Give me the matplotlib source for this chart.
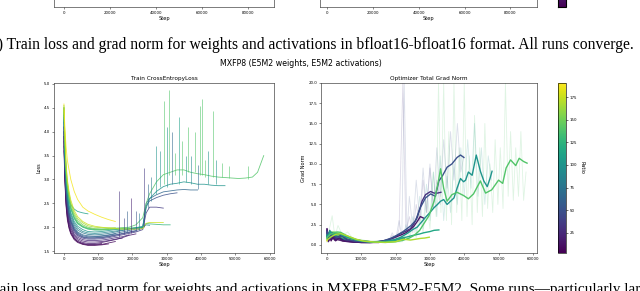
import matplotlib

matplotlib.use("Agg")

import matplotlib.pyplot as plt
from matplotlib import cm
from matplotlib.colors import Normalize

W, H = 640, 291

# ---------------- loss panel (shared step grid) ----------------
loss_steps = [0, 250, 600, 1000, 1500, 2000, 3000, 4000, 5500, 7000, 9000, 11000,
              13000, 15000, 17000, 19000, 21000, 23000, 24000, 25000, 27000, 29000,
              31000, 33000, 35000, 37000, 39000, 41000, 43000, 45000, 47000, 49000,
              51000, 53000, 55000, 56500, 58300]

loss_r003 = [3.9, 3.0, 2.45, 2.15, 1.97, 1.86, 1.74, 1.68, 1.64, 1.62, 1.62, 1.63, 1.65]
loss_r008 = [4.0, 3.1, 2.55, 2.22, 2.02, 1.9, 1.77, 1.7, 1.65, 1.63, 1.63, 1.64, 1.67, 1.70]
loss_r012 = [3.6, 3.05, 2.5, 2.2, 2.0, 1.88, 1.76, 1.7, 1.66, 1.64, 1.64, 1.66]
loss_r015 = [3.8, 3.15, 2.6, 2.28, 2.07, 1.94, 1.8, 1.73, 1.68, 1.66, 1.66, 1.68, 1.71,
             1.74, 1.78, 1.83, 1.86]
loss_r020 = [4.1, 3.2, 2.65, 2.33, 2.11, 1.98, 1.83, 1.76, 1.71, 1.69, 1.69, 1.70, 1.72,
             1.75, 1.77]
loss_r025 = [3.7, 3.25, 2.7, 2.38, 2.15, 2.02, 1.86, 1.79, 1.74, 1.72, 1.72, 1.73, 1.75,
             1.78, 1.80, 1.84]
loss_r035 = [3.9, 3.3, 2.75, 2.43, 2.2, 2.06, 1.9, 1.82, 1.77, 1.75, 1.75, 1.76, 1.78,
             1.81, 1.84, 1.87, 1.9, 1.95, 2.3, 2.42, 2.42, 2.4]
loss_r045 = [4.0, 3.35, 2.8, 2.47, 2.24, 2.1, 1.93, 1.84, 1.79, 1.77, 1.77, 1.78, 1.8,
             1.83, 1.86, 1.89, 1.92]
loss_r050 = [4.2, 3.4, 2.82, 2.5, 2.26, 2.12, 1.95, 1.86, 1.8, 1.78, 1.78, 1.79, 1.81,
             1.84, 1.87, 1.9, 1.93, 1.98, 2.45, 2.55, 2.62, 2.67, 2.7, 2.72]
loss_r058 = [4.1, 3.45, 2.86, 2.53, 2.29, 2.14, 1.97, 1.88, 1.82, 1.8, 1.8, 1.81, 1.83, 1.86]
loss_r065 = [4.3, 3.5, 2.9, 2.56, 2.32, 2.17, 2.0, 1.9, 1.84, 1.82, 1.81, 1.82, 1.84,
             1.87, 1.9, 1.93, 1.96, 2.0, 2.5, 2.6, 2.68, 2.74, 2.76, 2.78, 2.79, 2.78, 2.78]
loss_r078 = [4.25, 3.55, 2.95, 2.62, 2.38, 2.22, 2.04, 1.94, 1.88, 1.85, 1.84, 1.85, 1.87,
             1.9, 1.93, 1.96, 1.98, 2.0]
loss_r090 = [4.35, 3.6, 3.0, 2.67, 2.43, 2.27, 2.08, 1.98, 1.91, 1.88, 1.87, 1.88, 1.9,
             1.92, 1.94, 1.96, 1.98, 2.0, 2.05, 2.04]
loss_r100 = [4.45, 3.65, 3.05, 2.72, 2.47, 2.31, 2.12, 2.02, 1.95, 1.91, 1.9, 1.91, 1.93,
             1.95, 1.96, 1.97, 1.99, 2.02, 2.4, 2.6, 2.75, 2.85, 2.9, 2.92, 2.95, 2.93,
             2.9, 2.9, 2.88, 2.87, 2.87]
loss_r110 = [4.5, 3.75, 3.15, 2.82, 2.6, 2.47, 2.38, 2.33, 2.3, 2.28]
loss_r125 = [4.5, 3.8, 3.15, 2.8, 2.55, 2.38, 2.18, 2.07, 2.0, 1.96, 1.94, 1.94, 1.95,
             1.96, 1.97, 1.98, 1.99, 2.0, 2.08, 2.07, 2.06, 2.05, 2.05]
loss_r135 = [4.4, 3.8, 3.18, 2.83, 2.58, 2.4, 2.2, 2.09, 2.01, 1.97, 1.95, 1.95, 1.96]
loss_r140 = [4.5, 3.85, 3.2, 2.85, 2.6, 2.42, 2.22, 2.1, 2.02, 1.98, 1.96, 1.96, 1.97,
             1.98, 1.99, 2.0, 2.05, 2.2, 2.5, 2.7, 2.95, 3.1, 3.15, 3.2, 3.2, 3.15, 3.12,
             3.1, 3.07, 3.05, 3.04, 3.03, 3.02, 3.03, 3.05, 3.15, 3.5]
loss_r152 = [4.55, 3.9, 3.25, 2.9, 2.65, 2.47, 2.26, 2.14, 2.05, 2.0, 1.97, 1.96, 1.96,
             1.97, 1.98, 1.98]
loss_r165 = [4.5, 3.95, 3.3, 2.95, 2.7, 2.52, 2.3, 2.18, 2.09, 2.03, 2.0, 1.99, 1.99, 1.99]
loss_r176 = [4.45, 4.0, 3.35, 3.0, 2.75, 2.57, 2.35, 2.22, 2.12, 2.06, 2.02, 2.0, 1.98,
             1.97, 1.96, 1.96, 1.96, 1.97, 2.08, 2.1, 2.1, 2.1]
loss_r188 = [4.58, 4.15, 3.7, 3.4, 3.2, 3.0, 2.75, 2.58, 2.42, 2.34, 2.27, 2.21, 2.16, 2.12]

# loss spikes
spike_steps = [16000, 17500, 18500, 19500, 21000, 22000, 23500, 24500, 25500, 27000,
               28000, 29100, 30000, 30800, 31500, 32500, 33500, 34500, 35500, 36300,
               37000, 38200, 39000, 39600, 40300, 41200, 42000, 43600, 44500, 46000,
               48300, 53600]
spike_lo = [1.8, 1.85, 1.9, 1.88, 1.92, 1.95, 2.0, 2.4, 2.55, 2.7, 2.85, 2.9, 2.85, 3.1,
            2.9, 3.1, 2.9, 3.1, 2.95, 3.15, 2.9, 3.15, 2.8, 3.1, 3.1, 3.05, 2.9, 3.05,
            2.9, 3.05, 3.03, 3.02]
spike_hi = [2.75, 2.2, 2.35, 2.62, 2.35, 2.3, 3.25, 2.9, 3.05, 3.7, 3.6, 4.64, 4.1, 4.88,
            4.0, 3.55, 4.3, 3.8, 3.5, 4.1, 3.5, 4.0, 3.3, 4.54, 4.68, 3.4, 3.6, 4.43, 3.4,
            3.35, 3.28, 3.29]
spike_ratio = [30, 40, 60, 20, 50, 80, 35, 65, 80, 100, 100, 140, 100, 140, 65, 140, 110,
               140, 100, 140, 90, 140, 65, 140, 140, 140, 100, 140, 100, 140, 140, 140]

# ---------------- grad norm panel ----------------
gn_steps = [0, 400, 800, 1200, 1800, 2500, 3500, 4500, 6000, 8000, 10000, 12500, 15000,
            17500, 20000, 22500]
gn_r003 = [1.9, 0.6, 1.4, 0.5, 1.1, 0.6, 0.8, 0.5, 0.45, 0.35, 0.3, 0.3]
gn_r008 = [1.5, 0.4, 1.2, 0.7, 1.2, 0.5, 0.9, 0.6, 0.5, 0.4, 0.32, 0.3, 0.3]
gn_r012 = [1.2, 0.5, 1.5, 0.6, 0.9, 0.7, 0.6, 0.5, 0.4, 0.35]
gn_r020 = [1.7, 0.7, 1.3, 0.8, 1.0, 0.6, 0.8, 0.6, 0.5, 0.4, 0.35, 0.33, 0.35, 0.4]
gn_r045 = [1.4, 0.5, 1.6, 1.0, 1.3, 0.9, 1.0, 0.7, 0.55, 0.42, 0.36, 0.35, 0.38, 0.45, 0.55]
gn_r058 = [1.1, 0.8, 1.7, 1.2, 1.4, 1.0, 0.9, 0.7, 0.55, 0.42, 0.36, 0.35, 0.38]
gn_r078 = [1.3, 0.9, 1.8, 1.3, 1.5, 1.1, 1.0, 0.8, 0.6, 0.45, 0.38, 0.36, 0.4, 0.48, 0.6, 0.8]
gn_r090 = [1.0, 1.0, 1.6, 1.4, 1.5, 1.2, 1.0, 0.85, 0.65, 0.48, 0.4, 0.38, 0.42, 0.5, 0.65, 0.9]
gn_r110 = [1.2, 1.1, 1.7, 1.5, 1.5, 1.3, 1.1, 0.9, 0.7]
gn_r135 = [0.8, 1.2, 1.5, 1.6, 1.5, 1.4, 1.2, 0.95, 0.75, 0.55, 0.45, 0.4]
gn_r152 = [0.7, 1.0, 1.3, 1.5, 1.6, 1.55, 1.4, 1.15, 0.9, 0.65, 0.5, 0.42, 0.4, 0.42, 0.45]
gn_r188 = [0.5, 0.6, 0.9, 1.1, 1.2, 1.25, 1.2, 1.05, 0.85, 0.6, 0.45, 0.38, 0.35]

gn_green_steps = [0, 1000, 2000, 3000, 4000, 5500, 7000, 9000, 11000, 14000, 17000, 20000,
                  22000, 24000, 25500, 27000, 28200, 29700, 31200, 32300, 33100, 34000,
                  35000, 36400, 37900, 39800, 41200, 42700, 44700, 46200, 48000, 50000,
                  51200, 52200, 53500, 55000, 56000, 57300, 58300]
gn_green_vals = [0.9, 1.3, 1.5, 1.6, 1.55, 1.2, 0.9, 0.6, 0.45, 0.35, 0.3, 0.4, 0.55, 0.85,
                 1.2, 1.8, 2.6, 3.6, 5.4, 7.5, 9.4, 7.0, 5.4, 6.2, 6.5, 6.1, 5.7, 6.3, 7.9,
                 6.4, 6.8, 8.0, 7.6, 9.5, 10.5, 9.8, 10.7, 10.3, 10.1]
gn_teal_steps = [0, 1000, 2000, 3500, 5000, 7000, 10000, 13000, 16000, 19400, 21500, 23300,
                 25000, 26300, 27500, 28700, 30000, 31200, 32200, 33100, 34000, 35000,
                 36000, 37000, 37900, 38900, 39800, 40400, 41200, 42300, 43500, 44700,
                 45700, 46700, 47500, 48100]
gn_teal_vals = [1.1, 1.6, 1.3, 1.4, 1.1, 0.8, 0.5, 0.38, 0.4, 0.6, 0.95, 1.4, 1.9, 2.2,
                2.8, 3.4, 4.0, 4.6, 5.0, 5.4, 5.6, 5.0, 5.4, 5.8, 7.0, 8.2, 7.8, 8.0, 9.0,
                8.6, 11.1, 9.1, 7.9, 7.2, 8.2, 9.1]
gn_blue_steps = [0, 800, 1800, 3000, 4500, 6000, 8000, 10000, 13000, 16000, 18500, 20400,
                 22000, 23300, 24500, 25800, 27200, 28700, 30200, 31600, 32600, 33600,
                 35000, 36400, 37900, 38900, 39900]
gn_blue_vals = [1.6, 0.8, 1.4, 0.9, 1.1, 0.7, 0.5, 0.4, 0.35, 0.45, 0.8, 1.2, 1.6, 2.0,
                2.4, 3.0, 4.6, 5.8, 6.3, 6.0, 7.9, 8.5, 9.6, 10.0, 10.8, 11.1, 10.8]
gn_dark_steps = [0, 600, 1500, 2500, 4000, 6000, 8000, 11000, 14000, 17000, 19500, 21400,
                 23000, 24300, 25300, 26300, 27000, 27700, 28700, 30200, 31200, 32200, 33200]
gn_dark_vals = [1.8, 0.7, 1.5, 0.8, 1.2, 0.6, 0.45, 0.35, 0.35, 0.5, 0.9, 1.4, 1.7, 2.0,
                2.6, 3.4, 4.4, 5.4, 6.2, 6.6, 6.4, 6.4, 6.5]
gn_purple_steps = [0, 500, 1200, 2200, 3500, 5000, 7000, 10000, 13000, 16000, 19000,
                   21400, 23000, 24300, 25300, 26300, 27200, 28200]
gn_purple_vals = [2.0, 0.5, 1.2, 0.6, 0.9, 0.5, 0.4, 0.3, 0.3, 0.45, 0.8, 1.2, 1.5, 1.9,
                  2.3, 2.9, 3.5, 3.3]
gn_teal2_steps = [0, 1000, 2500, 4000, 6000, 8500, 11000, 14000, 17000, 19500, 21400,
                  23500, 25300, 27000, 28200, 30000, 31200, 32600]
gn_teal2_vals = [0.9, 1.5, 1.2, 1.3, 0.9, 0.6, 0.42, 0.33, 0.35, 0.5, 0.8, 1.0, 1.2, 1.35,
                 1.5, 1.65, 1.8, 1.85]
gn_ygreen_steps = [0, 1200, 2500, 4000, 6000, 8500, 11000, 14000, 17000, 20000, 22300,
                   24300, 25800, 27200, 28500, 29800]
gn_ygreen_vals = [0.6, 1.0, 1.3, 1.4, 1.1, 0.7, 0.45, 0.35, 0.32, 0.4, 0.7, 0.6, 0.7, 0.8,
                  0.85, 0.95]

# raw (unsmoothed) traces, drawn faint
raw_green_steps = [0, 700, 1500, 2300, 3200, 4500, 6000, 8000, 10000, 13000, 16000, 19000,
                   22000, 23000, 24000, 25000, 26000, 27000, 28000, 29000, 30000, 31000,
                   31800, 32500, 33200, 34000, 34800, 35500, 36300, 37000, 37800, 38500,
                   39300, 40000, 40800, 41500, 42300, 43000, 43800, 44500, 45300, 46000,
                   46800, 47500, 48300, 49000, 49800, 50500, 51300, 52000, 52800, 53500,
                   54300, 55000, 55800, 56500, 57300, 58000]
raw_green_vals = [0.3, 2.0, 3.6, 1.0, 2.4, 1.2, 1.6, 0.6, 0.7, 0.3, 0.5, 0.3,
                  0.4, 1.5, 0.6, 2.5, 0.9, 3.8, 1.5, 5.5, 2.0, 9.0, 3.5, 20, 4.0, 20, 3.0,
                  14, 2.5, 20, 4.0, 12, 3.0, 20, 3.5, 11, 2.5, 16, 4.0, 12, 3.5, 15, 4.5,
                  10, 4.0, 13, 5.0, 12, 4.5, 20, 6.0, 14, 5.5, 12, 6.0, 14, 5.5, 9.0]
raw_teal_steps = [20000, 21000, 22000, 23000, 24000, 25000, 26000, 27000, 28000, 29000,
                  30000, 31000, 32000, 33000, 34000, 35000, 36000, 37000, 38000, 39000,
                  40000, 41000, 42000, 43000, 44000, 45000, 46000, 47000, 48000]
raw_teal_vals = [0.5, 1.5, 0.6, 2.5, 1.0, 3.5, 1.5, 6.0, 2.0, 7.5, 3.0, 9.0, 3.5, 11, 3.0,
                 8.5, 4.0, 10, 5.0, 12, 6.0, 13, 7.0, 15, 6.0, 12, 5.0, 11, 8.0]
raw_blue_steps = [18000, 19000, 20000, 21000, 21800, 22500, 23300, 24000, 25000, 26000,
                  27000, 28000, 29000, 30000, 31000, 32000, 33000, 34000, 35000, 36000,
                  37000, 38000, 39000, 39900]
raw_blue_vals = [0.5, 1.5, 0.6, 3.0, 1.0, 20, 1.5, 6.0, 2.0, 8.0, 3.0, 9.5, 4.0, 10, 4.5,
                 12, 6.0, 13, 7.0, 14, 8.0, 15, 9.0, 11]
raw_dark_steps = [18000, 19000, 20000, 21000, 22100, 23000, 24000, 25000, 26000, 27000,
                  28000, 29000, 30000, 31000, 32000, 33000]
raw_dark_vals = [0.4, 1.2, 0.5, 2.0, 20, 1.5, 3.5, 1.5, 5.0, 2.5, 8.0, 4.0, 9.5, 4.5, 8.0, 5.0]

cbar_ticks = [25, 50, 75, 100, 125, 150, 175]

CAPTION_B = ("(b) Train loss and grad norm for weights and activations in "
             "bfloat16-bfloat16 format. All runs converge.")
CAPTION_C = ("(c) Train loss and grad norm for weights and activations in MXFP8 "
             "E5M2-E5M2. Some runs\u2014particularly larger ones\u2014diverge.")

cmap = plt.get_cmap("viridis")
norm = Normalize(vmin=3, vmax=191)

TICK_FS = 2.9
LABEL_FS = 3.6
TITLE_FS = 4.15


def px_axes(fig, left, top, right, bottom):
    """Axes from pixel box (top/bottom measured from the top edge)."""
    return fig.add_axes([left / W, (H - bottom) / H, (right - left) / W, (bottom - top) / H])


def style(ax):
    for sp in ax.spines.values():
        sp.set_linewidth(0.45)
        sp.set_color("#333333")
    ax.tick_params(labelsize=TICK_FS, length=1.5, width=0.4, pad=1.2, color="#333333")


fig = plt.figure(figsize=(W / 100, H / 100), dpi=100)

# ---- bottom edge of previous figure (cut off at the top) ----
top_l = px_axes(fig, 54, -163, 274, 7)
top_r = px_axes(fig, 320, -163, 537, 7)
for ax, xl in ((top_l, (-4350, 91300)), (top_r, (-3000, 91600))):
    style(ax)
    ax.set_xlim(*xl)
    ax.set_xticks([0, 20000, 40000, 60000, 80000])
    ax.set_xlabel("Step", fontsize=LABEL_FS, labelpad=1.0)
top_l.set_ylim(1.5, 5.0)
top_l.set_yticks([])
top_r.set_ylim(-1, 20)
top_r.set_yticks([0])
top_r.set_yticklabels(["0.0"])
sm = cm.ScalarMappable(norm=norm, cmap=cmap)
top_cax = px_axes(fig, 557.5, -163, 566, 7)
fig.colorbar(sm, cax=top_cax)
top_cax.set_yticks([])

# ---- loss panel ----
ax1 = px_axes(fig, 54, 83, 274, 253)
style(ax1)
loss_runs = [(3, loss_r003), (8, loss_r008), (12, loss_r012), (15, loss_r015),
             (20, loss_r020), (25, loss_r025), (35, loss_r035), (45, loss_r045),
             (50, loss_r050), (58, loss_r058), (65, loss_r065), (78, loss_r078),
             (90, loss_r090), (100, loss_r100), (110, loss_r110), (125, loss_r125),
             (135, loss_r135), (140, loss_r140), (152, loss_r152), (165, loss_r165),
             (176, loss_r176), (188, loss_r188)]
for ratio, vals in loss_runs:
    ax1.plot(loss_steps[:len(vals)], vals, color=cmap(norm(ratio)), lw=0.6, alpha=0.85)
ax1.vlines(spike_steps, spike_lo, spike_hi,
           colors=[cmap(norm(r)) for r in spike_ratio], lw=0.6, alpha=0.65)
ax1.set_xlim(-2900, 61300)
ax1.set_ylim(1.46, 5.02)
ax1.set_xticks([0, 10000, 20000, 30000, 40000, 50000, 60000])
ax1.set_title("Train CrossEntropyLoss", fontsize=TITLE_FS, pad=2.5)
ax1.set_xlabel("Step", fontsize=LABEL_FS, labelpad=1.0)
ax1.set_ylabel("Loss", fontsize=LABEL_FS, labelpad=1.5)

# ---- grad norm panel ----
ax2 = px_axes(fig, 321, 83, 537, 253)
style(ax2)
raw_runs = [(140, raw_green_steps, raw_green_vals), (100, raw_teal_steps, raw_teal_vals),
            (50, raw_blue_steps, raw_blue_vals), (30, raw_dark_steps, raw_dark_vals)]
for ratio, s, v in raw_runs:
    ax2.plot(s, v, color=cmap(norm(ratio)), lw=0.6, alpha=0.18)

short_runs = [(3, gn_r003), (8, gn_r008), (12, gn_r012), (20, gn_r020), (45, gn_r045),
              (58, gn_r058), (78, gn_r078), (90, gn_r090), (110, gn_r110), (135, gn_r135),
              (152, gn_r152), (188, gn_r188)]
for ratio, vals in short_runs:
    ax2.plot(gn_steps[:len(vals)], vals, color=cmap(norm(ratio)), lw=1.0, alpha=0.9)

long_runs = [(15, gn_purple_steps, gn_purple_vals), (30, gn_dark_steps, gn_dark_vals),
             (50, gn_blue_steps, gn_blue_vals), (100, gn_teal_steps, gn_teal_vals),
             (115, gn_teal2_steps, gn_teal2_vals), (140, gn_green_steps, gn_green_vals),
             (168, gn_ygreen_steps, gn_ygreen_vals)]
for ratio, s, v in long_runs:
    ax2.plot(s, v, color=cmap(norm(ratio)), lw=1.0)
ax2.set_xlim(-1750, 61200)
ax2.set_ylim(-1, 20)
ax2.set_xticks([0, 10000, 20000, 30000, 40000, 50000, 60000])
ax2.set_yticks([0, 2.5, 5, 7.5, 10, 12.5, 15, 17.5, 20])
ax2.set_yticklabels(["0.0", "2.5", "5.0", "7.5", "10.0", "12.5", "15.0", "17.5", "20.0"])
ax2.set_title("Optimizer Total Grad Norm", fontsize=TITLE_FS, pad=2.5)
ax2.set_xlabel("Step", fontsize=LABEL_FS, labelpad=1.0)
ax2.set_ylabel("Grad Norm", fontsize=LABEL_FS, labelpad=1.5)

cax = px_axes(fig, 557.5, 82.7, 566, 252.7)
cb = fig.colorbar(sm, cax=cax)
cb.set_ticks(cbar_ticks)
cb.outline.set_linewidth(0.45)
cax.tick_params(labelsize=TICK_FS, length=1.5, width=0.4, pad=1.2)
cb.set_label("Ratio", fontsize=LABEL_FS, rotation=270, labelpad=5)

fig.text(301 / W, 1 - 63.3 / H, "MXFP8 (E5M2 weights, E5M2 activations)",
         ha="center", va="center", fontsize=5.7)

# ---- captions (serif, cut at the image edges) ----
renderer = fig.canvas.get_renderer()


def text_width(s, size):
    t = fig.text(0, 0, s, family="Liberation Serif", fontsize=size)
    w = t.get_window_extent(renderer).width
    t.remove()
    return w


size_b, size_c = 11.25, 10.95
off_b = text_width("(b) T", size_b) - text_width("T", size_b)
fig.text((7 - off_b) / W, (H - 49.5) / H, CAPTION_B, family="Liberation Serif",
         fontsize=size_b, va="baseline", ha="left")
off_c = text_width("(c) Tra", size_c) - text_width("a", size_c)
fig.text((0 - off_c) / W, (H - 292.5) / H, CAPTION_C, family="Liberation Serif",
         fontsize=size_c, va="baseline", ha="left")

fig.savefig("out.png", dpi=100)
